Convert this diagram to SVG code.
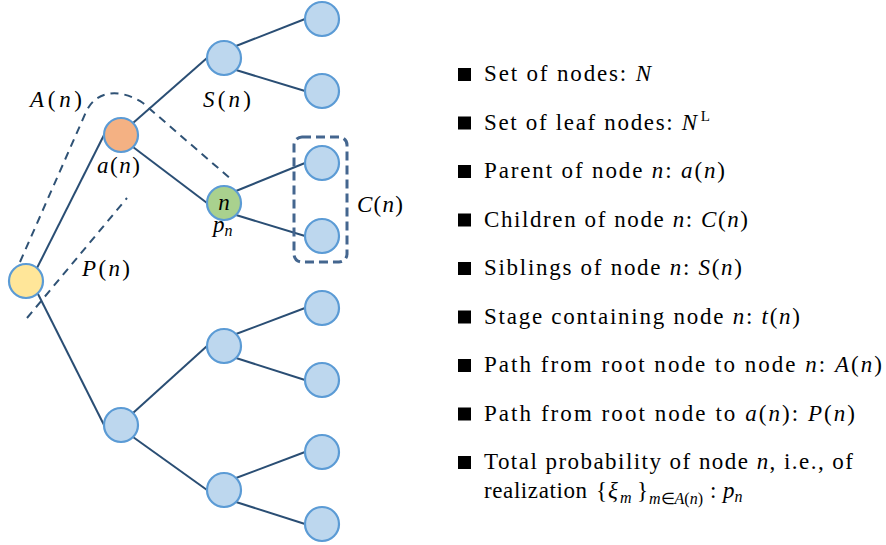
<svg xmlns="http://www.w3.org/2000/svg" width="886" height="545" viewBox="0 0 886 545">
<rect width="886" height="545" fill="#fff"/>
<g id="connectors" stroke="#2A4E74" stroke-width="2" fill="none">
<line x1="37" y1="268" x2="104" y2="135"/>
<line x1="37" y1="292" x2="104" y2="425"/>
<line x1="133" y1="123" x2="207" y2="58"/>
<line x1="133" y1="147" x2="207" y2="203"/>
<line x1="236" y1="46" x2="305" y2="19"/>
<line x1="236" y1="70" x2="305" y2="91"/>
<line x1="236" y1="191" x2="305" y2="163"/>
<line x1="236" y1="215" x2="305" y2="236"/>
<line x1="133" y1="413" x2="207" y2="346"/>
<line x1="133" y1="437" x2="207" y2="490"/>
<line x1="236" y1="334" x2="305" y2="308"/>
<line x1="236" y1="358" x2="305" y2="380"/>
<line x1="236" y1="478" x2="305" y2="452"/>
<line x1="236" y1="502" x2="305" y2="524"/>
</g>
<g id="nodes" stroke="#5B9BD5" stroke-width="2.2" fill="#BDD7EE">
<g id="root"><circle cx="26" cy="281" r="17" fill="#FFE699"/></g>
<g id="parent"><circle cx="121" cy="135" r="17" fill="#F4B183"/></g>
<g id="sibling"><circle cx="224" cy="58" r="17"/></g>
<g id="leaf1"><circle cx="322" cy="19" r="17"/></g>
<g id="leaf2"><circle cx="322" cy="91" r="17"/></g>
<g id="node-n"><circle cx="224" cy="203" r="17" fill="#A9D18E"/><text stroke="none" fill="#000" font-family="Liberation Serif" font-size="23" font-style="italic" x="224" y="210" text-anchor="middle">n</text></g>
<g id="child1"><circle cx="322" cy="163" r="17"/></g>
<g id="child2"><circle cx="322" cy="236" r="17"/></g>
<g id="low"><circle cx="121" cy="425" r="17"/></g>
<g id="low1"><circle cx="224" cy="346" r="17"/></g>
<g id="low2"><circle cx="224" cy="490" r="17"/></g>
<g id="leaf3"><circle cx="322" cy="308" r="17"/></g>
<g id="leaf4"><circle cx="322" cy="380" r="17"/></g>
<g id="leaf5"><circle cx="322" cy="452" r="17"/></g>
<g id="leaf6"><circle cx="322" cy="524" r="17"/></g>
</g>
<g id="annotations">
<path stroke="#2F5275" stroke-width="2" fill="none" stroke-dasharray="8 6" d="M20,262 L86,112 C96,90 120,88 143,103 L232,180"/>
<line stroke="#2F5275" stroke-width="2" stroke-dasharray="8 6" x1="27" y1="318" x2="127" y2="198"/>
<rect stroke="#44668F" stroke-width="3" fill="none" stroke-dasharray="9 5" x="294" y="137" width="53" height="125" rx="8"/>
<text font-family="Liberation Serif" font-size="23" x="30" y="107" textLength="52"><tspan font-style="italic">A</tspan>(<tspan font-style="italic">n</tspan>)</text>
<text font-family="Liberation Serif" font-size="23" x="203" y="107" textLength="48"><tspan font-style="italic">S</tspan>(<tspan font-style="italic">n</tspan>)</text>
<text font-family="Liberation Serif" font-size="23" x="97" y="173" textLength="43"><tspan font-style="italic">a</tspan>(<tspan font-style="italic">n</tspan>)</text>
<text font-family="Liberation Serif" font-size="23" x="213" y="232"><tspan font-style="italic">p</tspan><tspan font-style="italic" font-size="16" dy="4">n</tspan></text>
<text font-family="Liberation Serif" font-size="23" x="357" y="212" textLength="46"><tspan font-style="italic">C</tspan>(<tspan font-style="italic">n</tspan>)</text>
<text font-family="Liberation Serif" font-size="23" x="82" y="276" textLength="48"><tspan font-style="italic">P</tspan>(<tspan font-style="italic">n</tspan>)</text>
</g>
<g id="legend">
<rect x="458" y="68" width="13" height="13"/>
<rect x="458" y="116.5" width="13" height="13"/>
<rect x="458" y="165" width="13" height="13"/>
<rect x="458" y="213.5" width="13" height="13"/>
<rect x="458" y="262" width="13" height="13"/>
<rect x="458" y="310.5" width="13" height="13"/>
<rect x="458" y="359" width="13" height="13"/>
<rect x="458" y="407.5" width="13" height="13"/>
<rect x="458" y="456" width="13" height="13"/>
<text font-family="Liberation Serif" font-size="23" x="484" y="81" textLength="167">Set of nodes: <tspan font-style="italic">N</tspan></text>
<text font-family="Liberation Serif" font-size="23" x="484" y="129.5" textLength="226">Set of leaf nodes: <tspan font-style="italic">N</tspan><tspan font-size="15" dx="2" dy="-9">L</tspan></text>
<text font-family="Liberation Serif" font-size="23" x="484" y="178" textLength="241">Parent of node <tspan font-style="italic">n</tspan>: <tspan font-style="italic">a</tspan>(<tspan font-style="italic">n</tspan>)</text>
<text font-family="Liberation Serif" font-size="23" x="484" y="226.5" textLength="264">Children of node <tspan font-style="italic">n</tspan>: <tspan font-style="italic">C</tspan>(<tspan font-style="italic">n</tspan>)</text>
<text font-family="Liberation Serif" font-size="23" x="484" y="275" textLength="258">Siblings of node <tspan font-style="italic">n</tspan>: <tspan font-style="italic">S</tspan>(<tspan font-style="italic">n</tspan>)</text>
<text font-family="Liberation Serif" font-size="23" x="484" y="323.5" textLength="316">Stage containing node <tspan font-style="italic">n</tspan>: <tspan font-style="italic">t</tspan>(<tspan font-style="italic">n</tspan>)</text>
<text font-family="Liberation Serif" font-size="23" x="484" y="372" textLength="398">Path from root node to node <tspan font-style="italic">n</tspan>: <tspan font-style="italic">A</tspan>(<tspan font-style="italic">n</tspan>)</text>
<text font-family="Liberation Serif" font-size="23" x="484" y="420.5" textLength="371">Path from root node to <tspan font-style="italic">a</tspan>(<tspan font-style="italic">n</tspan>): <tspan font-style="italic">P</tspan>(<tspan font-style="italic">n</tspan>)</text>
<text font-family="Liberation Serif" font-size="23" x="484" y="469" textLength="369">Total probability of node <tspan font-style="italic">n</tspan>, i.e., of</text>
<text font-family="Liberation Serif" font-size="23" x="484" y="498"><tspan textLength="103">realization</tspan><tspan x="596">{</tspan><tspan x="608" font-style="italic">ξ</tspan><tspan x="620" font-style="italic" font-size="16" dy="5">m</tspan><tspan x="637" dy="-5">}</tspan><tspan x="649" font-size="16" dy="6"><tspan font-style="italic">m</tspan>∈<tspan font-style="italic">A</tspan>(<tspan font-style="italic">n</tspan>)</tspan><tspan x="710" dy="-6">:</tspan><tspan x="723" font-style="italic">p</tspan><tspan font-style="italic" font-size="16" dy="4">n</tspan></text>
</g>
</svg>
